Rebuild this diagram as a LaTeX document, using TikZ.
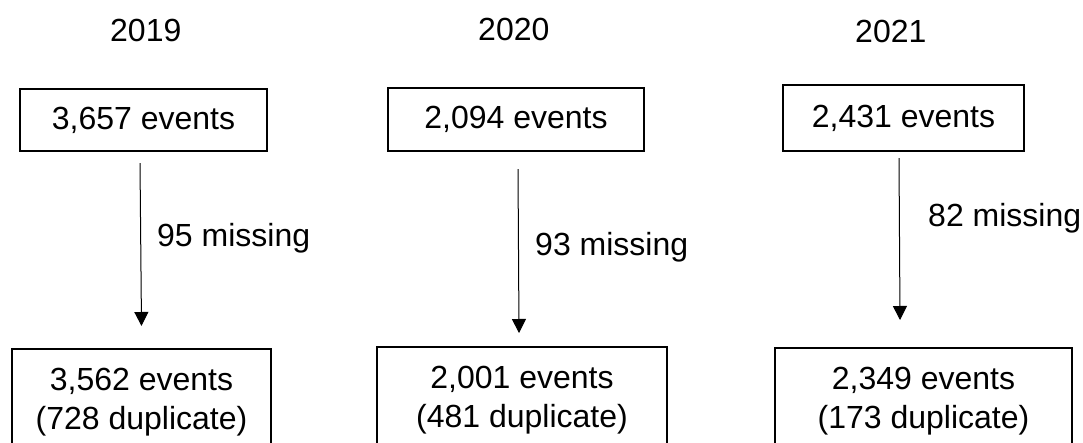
\documentclass[tikz,border=0pt]{standalone}
\usepackage{fontspec}
\setmainfont{Liberation Sans}
\usetikzlibrary{arrows.meta}
\begin{document}
\begin{tikzpicture}[x=1pt,y=-1pt,
  txt/.style={font=\fontsize{32}{39}\selectfont, inner sep=0pt},
  topbox/.style={draw, line width=2.2pt, font=\fontsize{32}{39}\selectfont, inner sep=0pt},
  botbox/.style={draw, line width=2.2pt, font=\fontsize{32}{39}\selectfont, align=center,
    anchor=north, inner ysep=19pt, inner xsep=0pt},
  arr/.style={line width=1pt, -{Triangle[width=14pt,length=14pt]}},
  lab/.style={txt, anchor=base west}]
\useasboundingbox (0,0) rectangle (1083,443);
\clip (0,0) rectangle (1083,443);
\fill[white] (0,0) rectangle (1083,443);
% years
\node[txt, anchor=base west] (y1) at (110,42) {2019};
\node[txt, anchor=base west] (y2) at (478,41) {2020};
\node[txt, anchor=base west] (y3) at (855,43) {2021};
% top boxes
\node[topbox, minimum width=247pt, minimum height=62pt] (t1) at (143.5,120) {3,657 events};
\node[topbox, minimum width=256pt, minimum height=63pt] (t2) at (516,119.5) {2,094 events};
\node[topbox, minimum width=241pt, minimum height=66pt] (t3) at (903.5,118) {2,431 events};
% bottom boxes
\node[botbox, minimum width=259pt] (b1) at (141.5,348) {3,562 events\\(728 duplicate)};
\node[botbox, minimum width=290pt] (b2) at (522,346) {2,001 events\\(481 duplicate)};
\node[botbox, minimum width=297pt] (b3) at (923.5,347) {2,349 events\\(173 duplicate)};
% arrows
\draw[arr] ([shift={(-3.5,11)}]t1.south) -- ([shift={(0,-22)}]b1.north);
\draw[arr] ([shift={(2,17)}]t2.south) -- ([shift={(-3,-13)}]b2.north);
\draw[arr] ([shift={(-4.5,6)}]t3.south) -- ([shift={(-23.5,-27)}]b3.north);
% labels
\node[lab] (m1) at (157,247) {95 missing};
\node[lab] (m2) at (535,256) {93 missing};
\node[lab] (m3) at (928,227) {82 missing};
\end{tikzpicture}
\end{document}
